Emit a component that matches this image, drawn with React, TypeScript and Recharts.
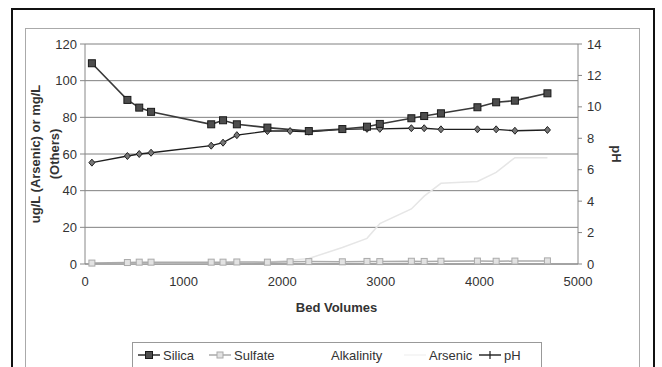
import React from 'react';
import { LineChart, Line, XAxis, YAxis, CartesianGrid } from 'recharts';

// bed volumes where samples were taken
const bedVolumes = [70, 430, 550, 670, 1280, 1400, 1540, 1850, 2080, 2270, 2610, 2860, 2990, 3310, 3440, 3610, 3980, 4170, 4360, 4690];
const silica = [109.5, 89.5, 85.3, 83, 76.2, 78.4, 76.2, 74.4, null, 72.5, 73.6, 74.9, 76.4, 79.5, 80.7, 82.2, 85.5, 88.2, 89.1, 93.1];
const sulfate = [0.5, 0.8, 1, 1, 1, 1, 1.1, 1, 1.2, 1.3, 1.2, 1.4, 1.3, 1.5, 1.4, 1.5, 1.6, 1.5, 1.6, 1.7];
const arsenic = [0.3, 0.3, 0.3, 0.4, 0.5, 0.6, 0.8, 1, 2, 3, 9, 14, 22, 30, 37, 44, 45, 50, 58, 58];
const ph = [6.45, 6.87, 7.0, 7.08, 7.53, 7.72, 8.2, 8.46, 8.46, 8.42, 8.57, 8.6, 8.6, 8.64, 8.64, 8.57, 8.57, 8.57, 8.48, 8.53];

const xTicks = [0, 1000, 2000, 3000, 4000, 5000];
const leftTicks = [0, 20, 40, 60, 80, 100, 120];
const rightTicks = [0, 2, 4, 6, 8, 10, 12, 14];
const legendNames = ['Silica', 'Sulfate', 'Alkalinity', 'Arsenic', 'pH'];

const FONT = '"Liberation Sans", Arial, sans-serif';

const data = bedVolumes.map((bv, i) => ({
    bv,
    silica: silica[i],
    sulfate: sulfate[i],
    arsenic: arsenic[i],
    ph: ph[i],
}));

const SquareDot = (props: any) => {
    const { cx, cy, index } = props;
    if (cx == null || cy == null) return <g key={`sq-${index}`} />;
    return <rect key={`sq-${index}`} x={cx - 3.5} y={cy - 3.5} width={7} height={7} fill="#4d4d4d" stroke="#1a1a1a" strokeWidth={1} />;
};

const SmallSquareDot = (props: any) => {
    const { cx, cy, index } = props;
    if (cx == null || cy == null) return <g key={`ss-${index}`} />;
    return <rect key={`ss-${index}`} x={cx - 3} y={cy - 3} width={6} height={6} fill="#e2e2e2" stroke="#aaa" strokeWidth={1} />;
};

const DiamondDot = (props: any) => {
    const { cx, cy, index } = props;
    if (cx == null || cy == null) return <g key={`dm-${index}`} />;
    return (
        <path
            key={`dm-${index}`}
            d={`M${cx},${cy - 3.5} L${cx + 3},${cy} L${cx},${cy + 3.5} L${cx - 3},${cy} Z`}
            fill="#777"
            stroke="#222"
            strokeWidth={1}
        />
    );
};

const LeftTitle = (props: any) => {
    const { viewBox } = props;
    const cx = viewBox.x + 21;
    const cy = viewBox.y + viewBox.height / 2;
    return (
        <text x={cx} y={cy} transform={`rotate(-90 ${cx} ${cy})`} textAnchor="middle" fontFamily={FONT} fontSize={13} fontWeight="bold" fill="#333">
            <tspan x={cx} dy={-6}>ug/L (Arsenic) or mg/L</tspan>
            <tspan x={cx} dy={19}>(Others)</tspan>
        </text>
    );
};

const BottomTitle = (props: any) => {
    const { viewBox } = props;
    const cx = viewBox.x + viewBox.width / 2 + 5;
    return (
        <text x={cx} y={viewBox.y + 48} textAnchor="middle" fontFamily={FONT} fontSize={13} fontWeight="bold" fill="#333">
            Bed Volumes
        </text>
    );
};

// legend icons, drawn small
function LegendIcon({ name }: { name: string }) {
    return (
        <svg width={22} height={10} style={{ display: 'block' }}>
            {name === 'Silica' && (
                <>
                    <line x1={0} y1={5} x2={22} y2={5} stroke="#3a3a3a" strokeWidth={1.6} />
                    <rect x={7.5} y={1.5} width={7} height={7} fill="#4d4d4d" stroke="#1a1a1a" />
                </>
            )}
            {name === 'Sulfate' && (
                <>
                    <line x1={0} y1={5} x2={22} y2={5} stroke="#aaa" strokeWidth={1.5} />
                    <rect x={8} y={2} width={6} height={6} fill="#e2e2e2" stroke="#aaa" />
                </>
            )}
            {name === 'Arsenic' && <line x1={0} y1={5} x2={22} y2={5} stroke="#f3f3f3" strokeWidth={1.5} />}
            {name === 'pH' && (
                <>
                    <line x1={0} y1={5} x2={22} y2={5} stroke="#1e1e1e" strokeWidth={1.4} />
                    <line x1={11} y1={1} x2={11} y2={9} stroke="#1e1e1e" strokeWidth={1.2} />
                </>
            )}
        </svg>
    );
}

const legendLeft = [5, 76, 173, 271, 346];

export default function App() {
    return (
        <div style={{ position: 'absolute', left: 0, top: 0, width: 662, height: 367, background: '#fff', overflow: 'hidden', fontFamily: FONT }}>
            <div style={{ position: 'absolute', left: 11, top: 8, width: 644, height: 400, border: '2px solid #111', boxSizing: 'border-box' }} />
            <div style={{ position: 'absolute', left: 25, top: 28, width: 615, height: 400, border: '1px solid #aaa', boxSizing: 'border-box' }} />
            <div style={{ position: 'absolute', left: 0, top: 0 }}>
                <LineChart width={662} height={367} data={data} margin={{ top: 44, right: 6, bottom: 53, left: 25 }}>
                    <CartesianGrid yAxisId="left" vertical={false} stroke="#808080" strokeWidth={1} />
                    <XAxis
                        dataKey="bv"
                        type="number"
                        domain={[0, 5000]}
                        ticks={xTicks}
                        interval={0}
                        height={50}
                        tickSize={0}
                        tickMargin={13}
                        axisLine={{ stroke: '#888' }}
                        tick={{ fill: '#333', fontSize: 13, fontFamily: FONT }}
                        label={<BottomTitle />}
                    />
                    <YAxis
                        yAxisId="left"
                        domain={[0, 120]}
                        ticks={leftTicks}
                        interval={0}
                        width={60}
                        tickSize={5}
                        tickMargin={3}
                        axisLine={{ stroke: '#888' }}
                        tickLine={{ stroke: '#888' }}
                        tick={{ fill: '#333', fontSize: 13, fontFamily: FONT }}
                        label={<LeftTitle />}
                    />
                    <YAxis
                        yAxisId="right"
                        orientation="right"
                        domain={[0, 14]}
                        ticks={rightTicks}
                        interval={0}
                        width={78}
                        tickSize={4}
                        tickMargin={5}
                        axisLine={{ stroke: '#888' }}
                        tickLine={{ stroke: '#888' }}
                        tick={{ fill: '#333', fontSize: 13, fontFamily: FONT }}
                        label={{ value: 'pH', angle: 90, position: 'center', fill: '#333', fontSize: 13, fontWeight: 'bold', fontFamily: FONT }}
                    />
                    <Line yAxisId="left" type="linear" dataKey="arsenic" stroke="#e6e6e6" strokeWidth={1.5} dot={false} isAnimationActive={false} />
                    <Line yAxisId="left" type="linear" dataKey="sulfate" stroke="#aaa" strokeWidth={1.5} dot={SmallSquareDot} isAnimationActive={false} />
                    <Line yAxisId="right" type="linear" dataKey="ph" stroke="#1e1e1e" strokeWidth={1.4} dot={DiamondDot} isAnimationActive={false} />
                    <Line yAxisId="left" type="linear" dataKey="silica" stroke="#3a3a3a" strokeWidth={1.6} dot={SquareDot} connectNulls isAnimationActive={false} />
                </LineChart>
            </div>
            <div style={{ position: 'absolute', left: 132, top: 342, width: 410, height: 30, border: '1px solid #999', boxSizing: 'border-box', background: '#fff' }}>
                {legendNames.map((name, i) => (
                    <div key={name} style={{ position: 'absolute', left: legendLeft[i], top: 3, display: 'flex', alignItems: 'center', height: 18 }}>
                        <div style={{ width: 22 }}>{name !== 'Alkalinity' && <LegendIcon name={name} />}</div>
                        <span style={{ marginLeft: 3, fontSize: 13, color: '#333' }}>{name}</span>
                    </div>
                ))}
            </div>
        </div>
    );
}
